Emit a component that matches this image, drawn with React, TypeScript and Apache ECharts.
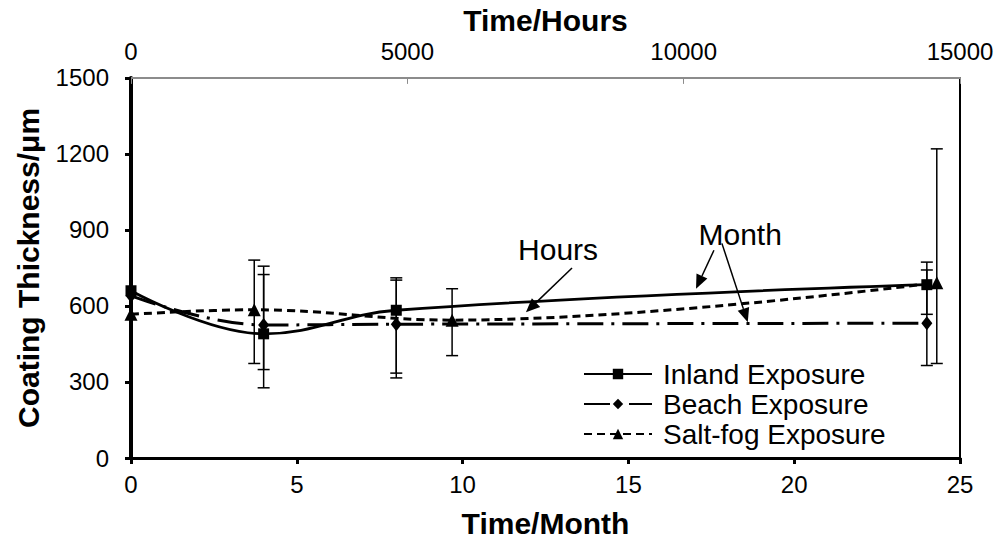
import { useEffect, useRef } from "react";
import * as echarts from "echarts";

// Coating thickness (µm) measured over exposure time
const inlandMonths = [0, 4, 8, 24];
const inlandThickness = [660, 490, 583, 684];
const inlandLow = [null, 277, 316, 567];
const inlandHigh = [null, 724, 711, 773];

const beachMonths = [0, 4, 8, 24];
const beachThickness = [640, 525, 528, 532];
const beachLow = [null, 349, 335, 365];
const beachHigh = [null, 757, 702, 742];

// Salt-fog cabinet results are plotted against the hours axis (top)
const saltFogHours = [0, 2230, 5810, 14580];
const saltFogThickness = [567, 585, 544, 692];
const saltFogLow = [null, 373, 404, 373];
const saltFogHigh = [null, 781, 668, 1220];

const seriesNames = ["Inland Exposure", "Beach Exposure", "Salt-fog Exposure"];

const FONT = "'Liberation Sans', Arial, sans-serif";

const pairs = (xs: number[], ys: number[]) => xs.map((x, i) => [x, ys[i]]);
const errorRows = (xs: number[], lo: (number | null)[], hi: (number | null)[]) =>
  xs
    .map((x, i) => (lo[i] == null || hi[i] == null ? null : [x, lo[i], hi[i]]))
    .filter((r) => r !== null) as number[][];

const errorBarSeries = (xAxisIndex: number, data: number[][]) => ({
  type: "custom",
  xAxisIndex,
  yAxisIndex: 0,
  z: 3,
  silent: true,
  data,
  encode: { x: 0, y: [1, 2] },
  renderItem: (_params: any, api: any) => {
    const x = api.value(0);
    const top = api.coord([x, api.value(2)]);
    const bot = api.coord([x, api.value(1)]);
    const half = 6;
    const style = { stroke: "#000", lineWidth: 1.5, fill: null };
    return {
      type: "group",
      children: [
        { type: "line", shape: { x1: top[0], y1: top[1], x2: bot[0], y2: bot[1] }, style },
        { type: "line", shape: { x1: top[0] - half, y1: top[1], x2: top[0] + half, y2: top[1] }, style },
        { type: "line", shape: { x1: bot[0] - half, y1: bot[1], x2: bot[0] + half, y2: bot[1] }, style },
      ],
    };
  },
});

// Callout arrows, in (month, µm) coordinates
const callouts = [
  { text: "Hours", at: [12.88, 824], arrows: [[[13.3, 750], [11.91, 575]]] },
  {
    text: "Month",
    at: [18.37, 882],
    arrows: [
      [[17.58, 820], [17.04, 668]],
      [[17.82, 847], [18.6, 536]],
    ],
  },
];

const plain = (v: number) => String(v);

export default function App() {
  const ref = useRef<HTMLDivElement>(null);

  useEffect(() => {
    if (!ref.current) return;
    const chart = echarts.init(ref.current, null, { renderer: "svg" });

    const axisLabel = { color: "#000", fontSize: 24, fontFamily: FONT, formatter: plain };
    const axisName = { color: "#000", fontSize: 30, fontWeight: "bold", fontFamily: FONT };

    chart.setOption({
      animation: false,
      backgroundColor: "#fff",
      grid: { left: 131, right: 45, top: 72, bottom: 86 },
      legend: {
        orient: "vertical",
        left: 578,
        top: 355,
        itemWidth: 68,
        itemHeight: 13,
        itemGap: 2,
        data: seriesNames,
        textStyle: { color: "#000", fontSize: 28, fontFamily: FONT, padding: [0, 0, 0, 6] },
      },
      xAxis: [
        {
          type: "value",
          position: "bottom",
          min: 0,
          max: 25,
          interval: 5,
          name: "Time/Month",
          nameLocation: "middle",
          nameGap: 50,
          nameTextStyle: axisName,
          axisLine: { show: true, onZero: false, lineStyle: { color: "#000", width: 3 } },
          axisTick: { show: true, length: 6, lineStyle: { color: "#000", width: 3 } },
          axisLabel: { ...axisLabel, margin: 14 },
          splitLine: { show: false },
        },
        {
          type: "value",
          position: "top",
          min: 0,
          max: 15000,
          interval: 5000,
          name: "Time/Hours",
          nameLocation: "middle",
          nameGap: 40,
          nameTextStyle: axisName,
          axisLine: { show: true, onZero: false, lineStyle: { color: "#8c8c8c", width: 2 } },
          axisTick: { show: true, inside: true, length: 6, lineStyle: { color: "#8c8c8c", width: 1 } },
          axisLabel: { ...axisLabel, margin: 14 },
          splitLine: { show: false },
        },
      ],
      yAxis: [
        {
          type: "value",
          position: "left",
          min: 0,
          max: 1500,
          interval: 300,
          name: "Coating Thickness/μm",
          nameLocation: "middle",
          nameGap: 88,
          nameTextStyle: axisName,
          axisLine: { show: true, onZero: false, lineStyle: { color: "#000", width: 4 } },
          axisTick: { show: true, length: 6, lineStyle: { color: "#000", width: 3 } },
          axisLabel: { ...axisLabel, margin: 22 },
          splitLine: { show: false },
        },
        {
          type: "value",
          position: "right",
          min: 0,
          max: 1500,
          axisLine: { show: true, onZero: false, lineStyle: { color: "#000", width: 2 } },
          axisTick: { show: false },
          axisLabel: { show: false },
          splitLine: { show: false },
        },
      ],
      series: [
        errorBarSeries(0, errorRows(inlandMonths, inlandLow, inlandHigh)),
        errorBarSeries(0, errorRows(beachMonths, beachLow, beachHigh)),
        errorBarSeries(1, errorRows(saltFogHours, saltFogLow, saltFogHigh)),
        {
          name: seriesNames[0],
          type: "line",
          xAxisIndex: 0,
          yAxisIndex: 0,
          smooth: 0.4,
          z: 5,
          data: pairs(inlandMonths, inlandThickness),
          symbol: "rect",
          symbolSize: 11,
          itemStyle: { color: "#000" },
          lineStyle: { color: "#000", width: 2.8, type: "solid" },
        },
        {
          name: seriesNames[1],
          type: "line",
          xAxisIndex: 0,
          yAxisIndex: 0,
          smooth: 0.4,
          z: 4,
          data: pairs(beachMonths, beachThickness),
          symbol: "diamond",
          symbolSize: [11, 14],
          itemStyle: { color: "#000" },
          lineStyle: { color: "#000", width: 3, type: [26, 8, 3, 8] },
        },
        {
          name: seriesNames[2],
          type: "line",
          xAxisIndex: 1,
          yAxisIndex: 0,
          smooth: 0.4,
          z: 4,
          data: pairs(saltFogHours, saltFogThickness),
          symbol: "triangle",
          symbolSize: [13, 13],
          itemStyle: { color: "#000" },
          lineStyle: { color: "#000", width: 3, type: [8, 5] },
        },
      ],
    });

    // Callout texts and arrows placed through the month / thickness scales
    const px = (p: number[]) => chart.convertToPixel({ xAxisIndex: 0, yAxisIndex: 0 }, p) as number[];
    const graphics: any[] = [];
    callouts.forEach((c) => {
      const t = px(c.at);
      graphics.push({
        type: "text",
        x: t[0],
        y: t[1],
        z: 10,
        style: {
          text: c.text,
          fill: "#000",
          font: `30px ${FONT}`,
          textAlign: "center",
          textVerticalAlign: "middle",
        },
      });
      c.arrows.forEach(([from, to]) => {
        const a = px(from);
        const b = px(to);
        const dx = b[0] - a[0];
        const dy = b[1] - a[1];
        const len = Math.hypot(dx, dy);
        const ux = dx / len;
        const uy = dy / len;
        const head = 14;
        const hw = 6;
        const base = [b[0] - ux * head, b[1] - uy * head];
        graphics.push({
          type: "line",
          z: 10,
          shape: { x1: a[0], y1: a[1], x2: base[0], y2: base[1] },
          style: { stroke: "#000", lineWidth: 1.5 },
        });
        graphics.push({
          type: "polygon",
          z: 10,
          shape: {
            points: [
              [b[0], b[1]],
              [base[0] - uy * hw, base[1] + ux * hw],
              [base[0] + uy * hw, base[1] - ux * hw],
            ],
          },
          style: { fill: "#000" },
        });
      });
    });
    chart.setOption({ graphic: graphics });

    return () => chart.dispose();
  }, []);

  return (
    <div
      ref={ref}
      style={{ position: "absolute", left: 0, top: 0, width: 1005, height: 544, background: "#fff" }}
    />
  );
}
